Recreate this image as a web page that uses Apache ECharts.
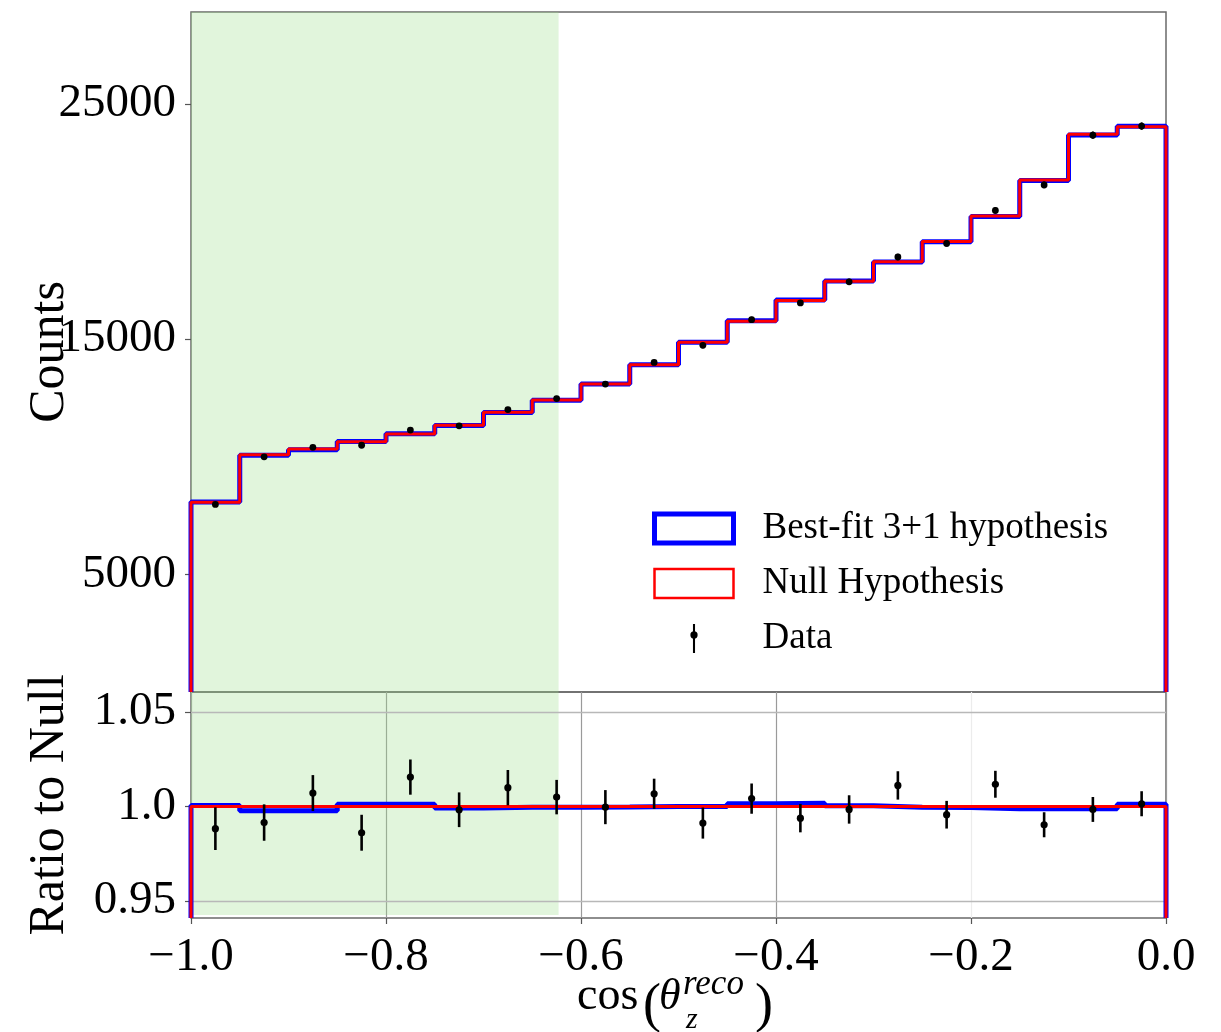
<!DOCTYPE html>
<html>
<head>
<meta charset="utf-8">
<script src="https://cdn.jsdelivr.net/npm/echarts@6/dist/echarts.min.js"></script>
<style>
  html, body { margin: 0; padding: 0; background: #ffffff; }
  #chart { width: 1221px; height: 1032px; }
</style>
</head>
<body>
<div id="chart"></div>
<script>
// Reconstructed zenith-angle histogram: 20 bins in cos(theta_z^reco) from -1 to 0
const binEdges = [-1.0, -0.95, -0.9, -0.85, -0.8, -0.75, -0.7, -0.65, -0.6, -0.55, -0.5,
                  -0.45, -0.4, -0.35, -0.3, -0.25, -0.2, -0.15, -0.1, -0.05, 0.0];

// Expected counts under the null (3-flavour) hypothesis
const nullCounts = [8067, 10081, 10324, 10634, 10962, 11332, 11886, 12410, 13090, 13913,
                    14865, 15758, 16637, 17462, 18284, 19149, 20230, 21762, 23704, 24018];

// Expected counts for the best-fit 3+1 sterile hypothesis
const bestFitCounts = [8071, 10058, 10300, 10646, 10974, 11322, 11880, 12404, 13086, 13913,
                       14865, 15780, 16664, 17469, 18275, 19139, 20206, 21736, 23676, 24047];

// Observed counts and their statistical uncertainties
const dataCounts = [7972, 9995, 10397, 10486, 11132, 11312, 12004, 12471, 13085, 14006,
                    14734, 15823, 16534, 17434, 18487, 19065, 20467, 21551, 23666, 24052];
const dataErrors = [91, 97, 98, 101, 102, 104, 111, 113, 118, 111,
                    122, 126, 125, 131, 137, 140, 144, 144, 156, 159];

// Axis ticks
const countTicks = [5000, 15000, 25000];
const ratioTicks = [0.95, 1.0, 1.05];
const ratioTickLabels = ['0.95', '1.0', '1.05'];
const cosTicks = [-1.0, -0.8, -0.6, -0.4, -0.2, 0.0];
const cosTickLabels = ['\u22121.0', '\u22120.8', '\u22120.6', '\u22120.4', '\u22120.2', '0.0'];

// Region of cos(theta) shaded in green
const shadedRange = [-1.0, -0.623];

// Panel ranges
const countRange = [0, 28900];
const ratioRange = [0.941, 1.0605];

const SERIF = '"Liberation Serif", "DejaVu Serif", serif';
const BLUE = '#0000ff';
const RED = '#ff0000';

// Outline of a histogram drawn as a step line (closed down to the floor at both ends)
function stepOutline(values, floor) {
  const pts = [[binEdges[0], floor]];
  values.forEach((v, i) => pts.push([binEdges[i], v]));
  const last = binEdges[binEdges.length - 1];
  pts.push([last, values[values.length - 1]]);
  pts.push([last, floor]);
  return pts;
}

const binCenters = nullCounts.map((_, i) => (binEdges[i] + binEdges[i + 1]) / 2);
const nullRatio = nullCounts.map((n, i) => n / nullCounts[i]);
const bestFitRatio = bestFitCounts.map((b, i) => b / nullCounts[i]);
const dataRatio = dataCounts.map((d, i) => d / nullCounts[i]);
const dataRatioErr = dataErrors.map((e, i) => e / nullCounts[i]);

const topPoints = binCenters.map((x, i) => [x, dataCounts[i], dataErrors[i]]);
const ratioPoints = binCenters.map((x, i) => [x, dataRatio[i], dataRatioErr[i]]);

function errorBarRenderer(lineWidth, radius) {
  return function (params, api) {
    const x = api.value(0), y = api.value(1), e = api.value(2);
    const c = api.coord([x, y]);
    const hi = api.coord([x, y + e]);
    const lo = api.coord([x, y - e]);
    return {
      type: 'group',
      children: [
        { type: 'line', shape: { x1: c[0], y1: hi[1], x2: c[0], y2: lo[1] },
          style: { stroke: '#000', lineWidth: lineWidth } },
        { type: 'circle', shape: { cx: c[0], cy: c[1], r: radius },
          style: { fill: '#000' } }
      ]
    };
  };
}

function labelFrom(values, labels) {
  return function (v) {
    for (let i = 0; i < values.length; i++) {
      if (Math.abs(values[i] - v) < 1e-6) return labels[i];
    }
    return '';
  };
}

const chart = echarts.init(document.getElementById('chart'), null, { renderer: 'canvas' });

const tickStyle = { show: true, length: 6, lineStyle: { color: '#555', width: 1.2 } };

const option = {
  animation: false,
  backgroundColor: '#ffffff',
  grid: [
    { left: 191, right: 55, top: 12, height: 680, show: true, outerBoundsMode: 'none',
      borderColor: '#6a6a6a', borderWidth: 1.5, backgroundColor: 'transparent' },
    { left: 191, right: 55, top: 692, height: 226, show: true, outerBoundsMode: 'none',
      borderColor: '#6a6a6a', borderWidth: 1.5, backgroundColor: 'transparent' }
  ],
  xAxis: [
    { gridIndex: 0, type: 'value', min: -1, max: 0, show: false },
    { gridIndex: 1, type: 'value', min: -1, max: 0, interval: 0.2,
      axisLine: { show: false, onZero: false },
      axisTick: tickStyle,
      axisLabel: { fontFamily: SERIF, fontSize: 47, color: '#000', margin: 16,
                   formatter: labelFrom(cosTicks, cosTickLabels) },
      splitLine: { show: true,
                   lineStyle: { width: 1.2,
                                color: ['#9a9a9a', '#9a9a9a', '#9a9a9a', '#9a9a9a', '#ececec', '#9a9a9a'] } } }
  ],
  yAxis: [
    { gridIndex: 0, type: 'value', min: countRange[0], max: countRange[1],
      axisLine: { show: false, onZero: false }, splitLine: { show: false },
      axisTick: Object.assign({ customValues: countTicks }, tickStyle),
      axisLabel: { customValues: countTicks, fontFamily: SERIF, fontSize: 47, color: '#000', margin: 15,
                   formatter: (v) => String(v) },
      name: 'Counts', nameLocation: 'middle', nameGap: 116, nameMoveOverlap: false,
      nameTextStyle: { fontFamily: SERIF, fontSize: 50, color: '#000' } },
    { gridIndex: 1, type: 'value', min: ratioRange[0], max: ratioRange[1],
      axisLine: { show: false, onZero: false }, splitLine: { show: false },
      axisTick: Object.assign({ customValues: ratioTicks }, tickStyle),
      axisLabel: { customValues: ratioTicks, fontFamily: SERIF, fontSize: 47, color: '#000', margin: 15,
                   formatter: labelFrom(ratioTicks, ratioTickLabels) },
      name: 'Ratio to Null', nameLocation: 'middle', nameGap: 116, nameMoveOverlap: false,
      nameTextStyle: { fontFamily: SERIF, fontSize: 50, color: '#000' } }
  ],
  legend: {
    orient: 'vertical', left: 652, top: 510, padding: 0,
    itemWidth: 79, itemHeight: 29, itemGap: 18,
    selectedMode: false,
    textStyle: { fontFamily: SERIF, fontSize: 37, color: '#000', padding: [0, 0, 0, 24] },
    data: [
      { name: 'Best-fit 3+1 hypothesis', icon: 'rect',
        itemStyle: { color: '#ffffff', borderColor: BLUE, borderWidth: 5 } },
      { name: 'Null Hypothesis', icon: 'rect',
        itemStyle: { color: '#ffffff', borderColor: RED, borderWidth: 2.5 } },
      { name: 'Data',
        icon: 'path://M3 0h2v28h-2z M4 7.1a3.5 3.5 0 1 1 0 7a3.5 3.5 0 1 1 0-7z',
        itemStyle: { color: '#000' } }
    ]
  },
  series: [
    // shaded region, top panel
    { type: 'line', xAxisIndex: 0, yAxisIndex: 0, data: [], silent: true,
      markArea: { silent: true, z: 1,
        itemStyle: { color: 'rgba(155,222,138,0.3)' },
        data: [[{ xAxis: shadedRange[0], yAxis: countRange[0] }, { xAxis: shadedRange[1], yAxis: countRange[1] }]] } },
    // shaded region + horizontal grid lines, ratio panel
    { type: 'line', xAxisIndex: 1, yAxisIndex: 1, data: [], silent: true,
      markArea: { silent: true, z: 1,
        itemStyle: { color: 'rgba(155,222,138,0.3)' },
        data: [[{ xAxis: shadedRange[0], yAxis: 0.9426 }, { xAxis: shadedRange[1], yAxis: ratioRange[1] }]] },
      markLine: { silent: true, z: 1.5, symbol: 'none', label: { show: false },
        lineStyle: { color: '#b8b8b8', width: 1.3, type: 'solid' },
        data: [{ yAxis: ratioTicks[0] }, { yAxis: ratioTicks[2] }] } },

    // top panel histograms
    { name: 'Best-fit 3+1 hypothesis', type: 'line', xAxisIndex: 0, yAxisIndex: 0,
      step: 'end', symbol: 'none', clip: false, z: 2,
      lineStyle: { color: BLUE, width: 5 }, itemStyle: { color: BLUE },
      data: stepOutline(bestFitCounts, countRange[0]) },
    { name: 'Null Hypothesis', type: 'line', xAxisIndex: 0, yAxisIndex: 0,
      step: 'end', symbol: 'none', clip: false, z: 3,
      lineStyle: { color: RED, width: 3 }, itemStyle: { color: RED },
      data: stepOutline(nullCounts, countRange[0]) },
    { name: 'Data', type: 'custom', xAxisIndex: 0, yAxisIndex: 0, z: 4,
      itemStyle: { color: '#000' },
      renderItem: errorBarRenderer(2, 3.4),
      encode: { x: 0, y: 1 },
      data: topPoints },

    // ratio panel
    { name: 'Best-fit / Null', type: 'line', xAxisIndex: 1, yAxisIndex: 1,
      step: 'end', symbol: 'none', clip: false, z: 2,
      lineStyle: { color: BLUE, width: 5 },
      data: stepOutline(bestFitRatio, ratioRange[0]) },
    { name: 'Null / Null', type: 'line', xAxisIndex: 1, yAxisIndex: 1,
      step: 'end', symbol: 'none', clip: false, z: 3,
      lineStyle: { color: RED, width: 3 },
      data: stepOutline(nullRatio, ratioRange[0]) },
    { name: 'Data / Null', type: 'custom', xAxisIndex: 1, yAxisIndex: 1, z: 4,
      renderItem: errorBarRenderer(2.6, 3.6),
      encode: { x: 0, y: 1 },
      data: ratioPoints }
  ],
  // x-axis title: cos(theta_z^reco)
  graphic: [
    { type: 'group', silent: true,
      children: [
        { type: 'text', x: 577, y: 997,
          style: { text: 'cos', font: '46px ' + SERIF, fill: '#000', verticalAlign: 'middle', align: 'left' } },
        { type: 'text', x: 643, y: 1007,
          style: { text: '(', font: '54px ' + SERIF, fill: '#000', verticalAlign: 'middle', align: 'left' } },
        { type: 'text', x: 659, y: 997,
          style: { text: '\u03B8', font: 'italic 44px ' + SERIF, fill: '#000', verticalAlign: 'middle', align: 'left' } },
        { type: 'text', x: 683, y: 985,
          style: { text: 'reco', font: 'italic 35px ' + SERIF, fill: '#000', verticalAlign: 'middle', align: 'left' } },
        { type: 'text', x: 686, y: 1020,
          style: { text: 'z', font: 'italic 30px ' + SERIF, fill: '#000', verticalAlign: 'middle', align: 'left' } },
        { type: 'text', x: 755, y: 1007,
          style: { text: ')', font: '54px ' + SERIF, fill: '#000', verticalAlign: 'middle', align: 'left' } }
      ] }
  ]
};

chart.setOption(option);
</script>
</body>
</html>
